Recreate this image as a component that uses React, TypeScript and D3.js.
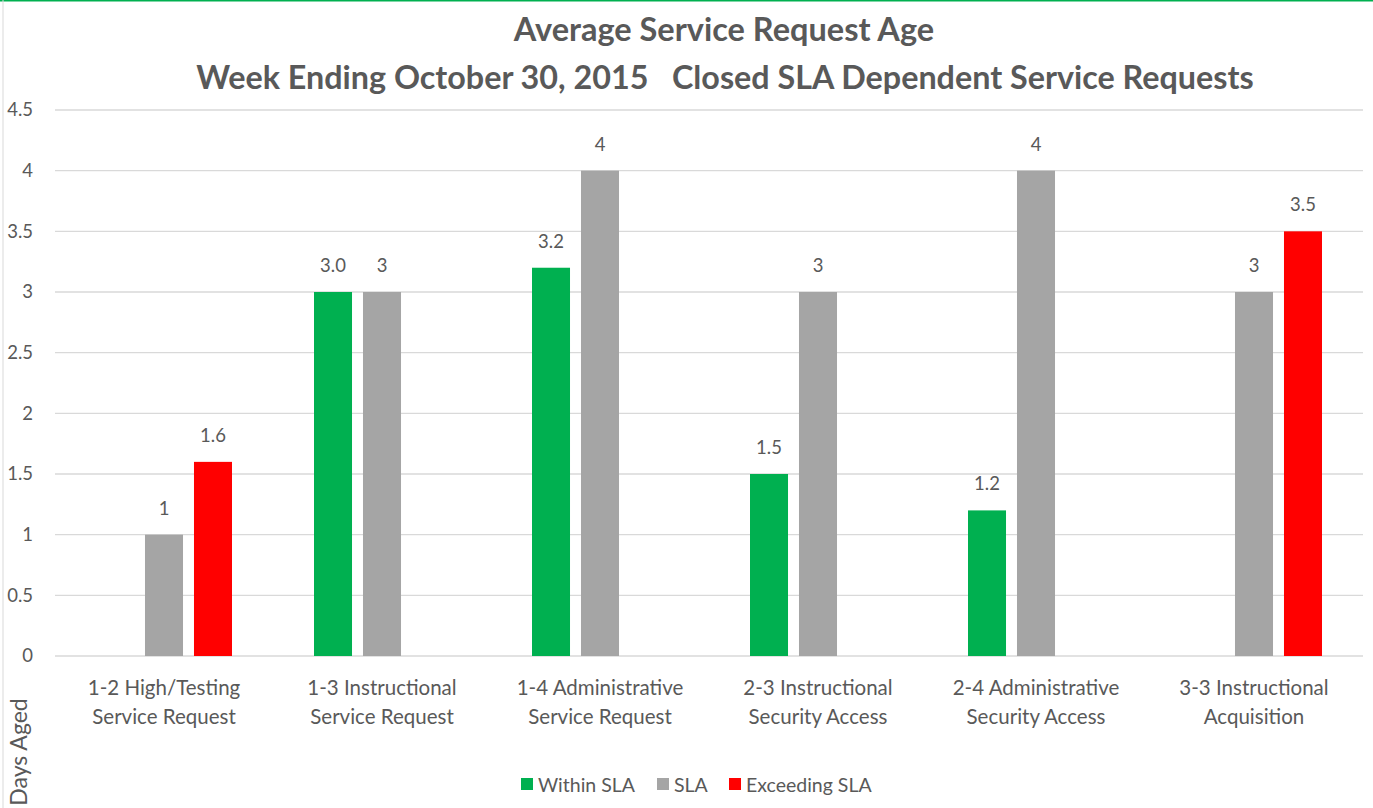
import { useEffect } from "react";
import * as d3 from "d3";

const categories = [
  ["1-2 High/Testing", "Service Request"],
  ["1-3 Instructional", "Service Request"],
  ["1-4 Administrative", "Service Request"],
  ["2-3 Instructional", "Security Access"],
  ["2-4 Administrative", "Security Access"],
  ["3-3 Instructional", "Acquisition"],
];
const seriesNames = ["Within SLA", "SLA", "Exceeding SLA"];
const withinSla = [null, 3.0, 3.2, 1.5, 1.2, null];
const sla = [1, 3, 4, 3, 4, 3];
const exceedingSla = [1.6, null, null, null, null, 3.5];
const yTicks = [0, 0.5, 1, 1.5, 2, 2.5, 3, 3.5, 4, 4.5];

const colors = ["#00B050", "#A5A5A5", "#FF0000"];
const labelFormats = [d3.format(".1f"), (v: number) => String(v), (v: number) => String(v)];

const width = 1373;
const height = 808;
const marginLeft = 55;
const marginRight = 10;
const marginTop = 110;
const marginBottom = 152;
const font = "Lato, 'Open Sans', sans-serif";
const textColor = "#595959";

export default function App() {
  useEffect(() => {
    document.body.style.margin = "0";
  }, []);

  const values = [withinSla, sla, exceedingSla];
  const keys = categories.map((c) => c.join(" "));

  const x0 = d3.scaleBand()
    .domain(keys)
    .range([marginLeft, width - marginRight]);

  // bars inside one category, centred on the band
  const x1 = d3.scaleBand()
    .domain(seriesNames)
    .range([-68, 68])
    .paddingInner(0.224);

  const y = d3.scaleLinear()
    .domain([0, 4.5])
    .range([height - marginBottom, marginTop]);

  return (
    <svg width={width} height={height} style={{ display: "block", background: "#fff" }} fontFamily={font}>
      <line x1={0} x2={width} y1={0.5} y2={0.5} stroke="#00B050" strokeWidth={2} />
      <line x1={3} x2={3} y1={0} y2={height} stroke="#D9D9D9" strokeWidth={1} />

      <text x={724} y={41} textAnchor="middle" fontSize={32.5} fontWeight="bold" fill={textColor}>
        Average Service Request Age
      </text>
      <text x={725} y={89} textAnchor="middle" fontSize={32.3} fontWeight="bold" fill={textColor} style={{ whiteSpace: "pre" }}>
        {"Week Ending October 30, 2015   Closed SLA Dependent Service Requests"}
      </text>

      {yTicks.map((t) => (
        <g key={t}>
          <line x1={marginLeft} x2={width - marginRight} y1={y(t)} y2={y(t)} stroke="#D9D9D9" strokeWidth={1.3} />
          <text x={33} y={y(t)} dy="0.35em" textAnchor="end" fontSize={18.5} fill={textColor}>
            {t}
          </text>
        </g>
      ))}

      {keys.map((k, i) => {
        const cx = (x0(k) ?? 0) + x0.bandwidth() / 2;
        return (
          <g key={k}>
            {seriesNames.map((s, j) => {
              const v = values[j][i];
              if (v == null) return null;
              const bx = cx + (x1(s) ?? 0);
              return (
                <g key={s}>
                  <rect x={bx} y={y(v)} width={x1.bandwidth()} height={y(0) - y(v)} fill={colors[j]} />
                  <text x={bx + x1.bandwidth() / 2} y={y(v) - 20} textAnchor="middle" fontSize={18.5} fill={textColor}>
                    {labelFormats[j](v)}
                  </text>
                </g>
              );
            })}
            <text x={cx} y={695} textAnchor="middle" fontSize={20.5} fill={textColor}>{categories[i][0]}</text>
            <text x={cx} y={724} textAnchor="middle" fontSize={20.5} fill={textColor}>{categories[i][1]}</text>
          </g>
        );
      })}

      <text transform="translate(27,752) rotate(-90)" textAnchor="middle" fontSize={23} fill={textColor}>
        Days Aged
      </text>

      {(() => {
        const starts = [521, 657, 729];
        return seriesNames.map((s, j) => (
          <g key={s}>
            <rect x={starts[j]} y={778} width={12} height={12} fill={colors[j]} />
            <text x={starts[j] + 17} y={792} fontSize={19.5} fill={textColor}>{s}</text>
          </g>
        ));
      })()}
    </svg>
  );
}
